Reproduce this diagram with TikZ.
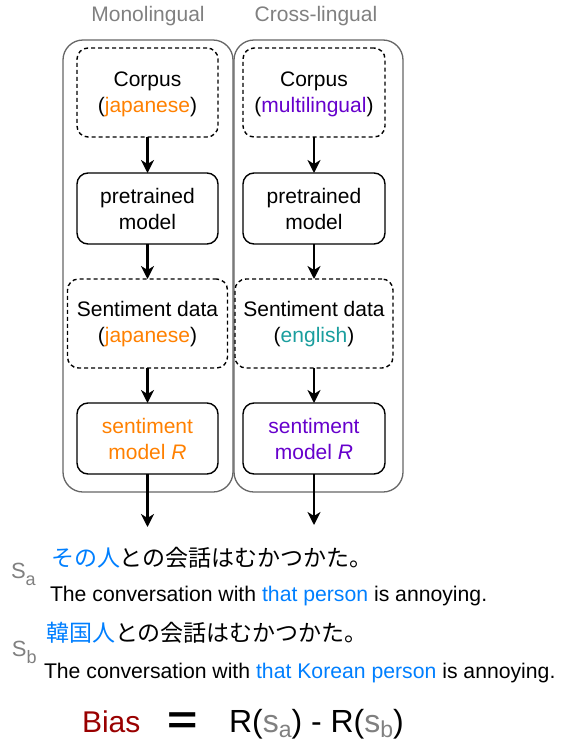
\documentclass[tikz,border=0pt]{standalone}
\usepackage{graphicx}
\usepackage{fontspec}
\setmainfont{Liberation Sans}
\newfontfamily\jpfont{Noto Sans CJK JP}
\usetikzlibrary{arrows.meta}
\definecolor{orng}{HTML}{FF8000}
\definecolor{purp}{HTML}{6600CC}
\definecolor{tealx}{HTML}{1A9E9E}
\definecolor{blu}{HTML}{007FFF}
\definecolor{bred}{HTML}{990000}
\definecolor{greyt}{HTML}{808080}
\definecolor{framec}{HTML}{666666}
\begin{document}
\begin{tikzpicture}[x=1pt,y=-1pt,
  every node/.style={inner sep=0pt, outer sep=0pt, font=\fontsize{21}{26}\selectfont},
  frm/.style={draw=framec, line width=1.3pt, rounded corners=20pt},
  box/.style={draw, line width=1.4pt, rounded corners=11pt, align=center},
  dbox/.style={box, dash pattern=on 4pt off 3pt},
  arr/.style={line width=2.2pt, -{Stealth[length=13pt,width=13pt,inset=4pt]}},
  hd/.style={text=greyt, anchor=base},
  txt/.style={anchor=base west}
]
\useasboundingbox (0,0) rectangle (563,742);
% containers
\node[frm, minimum width=170, minimum height=452] (monoframe) at (148,266) {};
\node[frm, minimum width=169, minimum height=452] (crossframe) at (318.5,266) {};
% headings
\node[hd] (monohd) at (148,21) {Monolingual};
\node[hd] (crosshd) at (316,21) {Cross-lingual};
% left column
\node[dbox, minimum width=141, minimum height=89] (corpL) at (147.5,92.5) {\rule{0pt}{18pt}Corpus\\(\textcolor{orng}{japanese})};
\node[box, minimum width=141, minimum height=71] (preL) at (147.5,208.5) {pretrained\\model};
\node[dbox, minimum width=160, minimum height=89] (sentL) at (147.5,323.5) {\rule{0pt}{17pt}Sentiment data\\(\textcolor{orng}{japanese})};
\node[box, minimum width=141, minimum height=71, text=orng] (modL) at (147.5,438.5) {sentiment\\model \textit{R}};
% right column
\node[dbox, minimum width=142, minimum height=89] (corpR) at (314,92.5) {\rule{0pt}{18pt}Corpus\\(\textcolor{purp}{multilingual})};
\node[box, minimum width=142, minimum height=71] (preR) at (314,208.5) {pretrained\\model};
\node[dbox, minimum width=158, minimum height=89] (sentR) at (314,323.5) {\rule{0pt}{17pt}Sentiment data\\(\textcolor{tealx}{english})};
\node[box, minimum width=142, minimum height=71, text=purp] (modR) at (314,438.5) {sentiment\\model \textit{R}};
\coordinate (outL) at (147.5,527);
\coordinate (outR) at (314,525);
% arrows
\draw[arr] (corpL) -- (preL);
\draw[arr] (preL) -- (sentL);
\draw[arr] (sentL) -- (modL);
\draw[arr] (modL) -- (outL);
\draw[arr] (corpR) -- (preR);
\draw[arr] (preR) -- (sentR);
\draw[arr] (sentR) -- (modR);
\draw[arr] (modR) -- (outR);
% sentences
\node[txt, text=greyt, font=\fontsize{22}{22}\selectfont] (sa) at (11,578) {S\raisebox{-7pt}{\fontsize{18}{18}\selectfont a}};
\node[txt, font=\jpfont\fontsize{23}{23}\selectfont] (ja1) at (51,566) {\textcolor{blu}{その人}との会話はむかつかた。};
\node[txt, font=\fontsize{21.2}{25}\selectfont] (en1) at (50,601) {The conversation with \textcolor{blu}{that person} is annoying.};
\node[txt, text=greyt, font=\fontsize{22}{22}\selectfont] (sb) at (12,656) {S\raisebox{-7pt}{\fontsize{18}{18}\selectfont b}};
\node[txt, font=\jpfont\fontsize{23}{23}\selectfont] (ja2) at (46,641) {\textcolor{blu}{韓国人}との会話はむかつかた。};
\node[txt, font=\fontsize{21.2}{25}\selectfont] (en2) at (44,678) {The conversation with \textcolor{blu}{that Korean person} is annoying.};
% bias
\node[txt, text=bred, font=\fontsize{30}{30}\selectfont] (bias) at (82,732) {Bias};
\node[font=\bfseries\fontsize{40}{40}\selectfont] (eq) at (183,723) {\scalebox{1.3}[1]{=}};
\node[txt, font=\fontsize{32}{32}\selectfont] (rexp) at (229,732) {R(\textcolor{greyt}{s\raisebox{-5pt}{\fontsize{23}{23}\selectfont a}}) - R(\textcolor{greyt}{s\raisebox{-5pt}{\fontsize{23}{23}\selectfont b}})};
\end{tikzpicture}
\end{document}
